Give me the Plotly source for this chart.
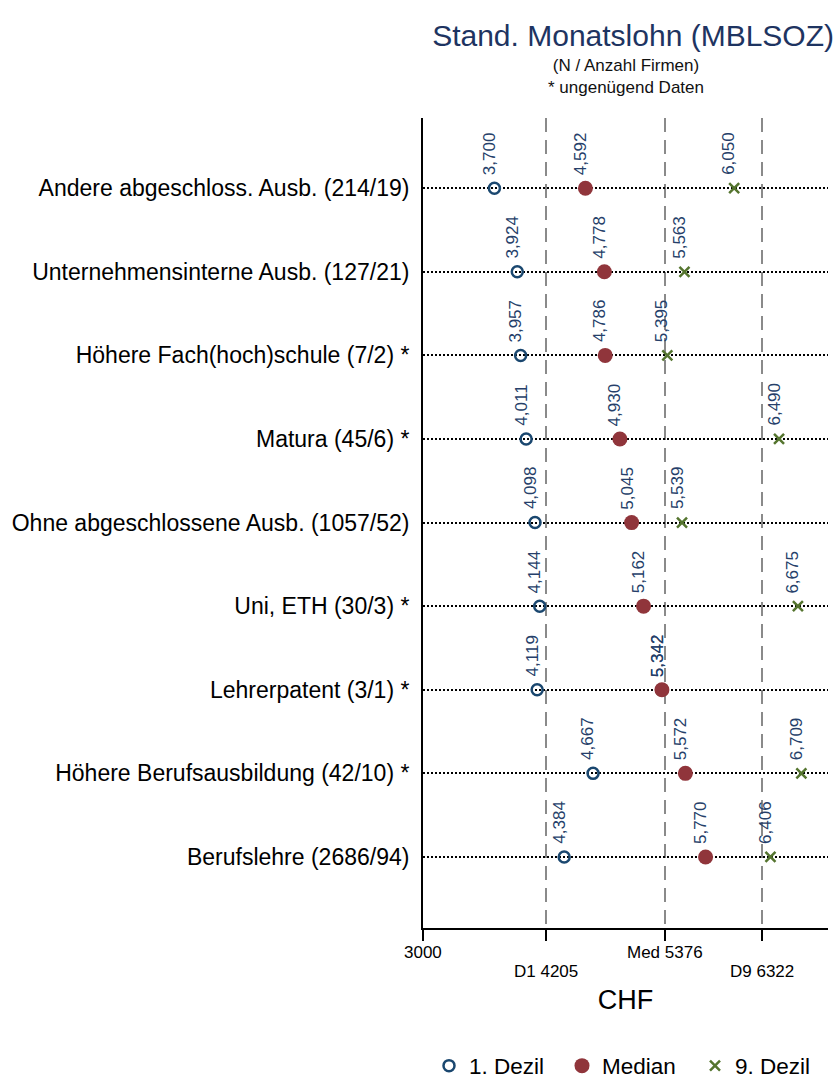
import plotly.graph_objects as go

# Rows, top to bottom
categories = [
    "Andere abgeschloss. Ausb. (214/19)",
    "Unternehmensinterne Ausb. (127/21)",
    "Höhere Fach(hoch)schule (7/2) *",
    "Matura (45/6) *",
    "Ohne abgeschlossene Ausb. (1057/52)",
    "Uni, ETH (30/3) *",
    "Lehrerpatent (3/1) *",
    "Höhere Berufsausbildung (42/10) *",
    "Berufslehre (2686/94)",
]
dezil1 = [3700, 3924, 3957, 4011, 4098, 4144, 4119, 4667, 4384]
median = [4592, 4778, 4786, 4930, 5045, 5162, 5342, 5572, 5770]
dezil9 = [6050, 5563, 5395, 6490, 5539, 6675, 5342, 6709, 6406]

# Overall reference values shown as dashed lines / axis ticks
ref_names = ["D1", "Med", "D9"]
ref_values = [4205, 5376, 6322]
x_min = 3000
x_max = 6970

FONT = "Liberation Sans, Arial, sans-serif"
NAVY = "#1a476f"
MAROON = "#90353b"
GREEN = "#55752f"
LABEL_COLOR = "#263f6a"

fig = go.Figure()

# D9 is drawn before the median so the median dot covers identical values
fig.add_trace(go.Scatter(
    x=dezil1, y=categories, mode="markers", name="1. Dezil",
    marker=dict(symbol="circle-open", size=11, color=NAVY, line=dict(width=2.5, color=NAVY)),
    legendrank=1,
))
fig.add_trace(go.Scatter(
    x=dezil9, y=categories, mode="markers", name="9. Dezil",
    marker=dict(symbol="x-thin", size=10, color=GREEN, line=dict(width=2.5, color=GREEN)),
    legendrank=3,
))
fig.add_trace(go.Scatter(
    x=median, y=categories, mode="markers", name="Median",
    marker=dict(symbol="circle", size=15, color=MAROON),
    legendrank=2,
))

# Rotated value labels above each marker
for series in (dezil1, median, dezil9):
    for cat, v in zip(categories, series):
        fig.add_annotation(
            x=v, y=cat, text=f"{v:,}", textangle=-90,
            showarrow=False, xanchor="center", yanchor="bottom",
            xshift=-5, yshift=11,
            font=dict(family=FONT, size=17, color=LABEL_COLOR),
        )

# x tick labels, alternating in two rows
tick_vals = [x_min] + ref_values
tick_text = [str(x_min)] + [f"{n} {v}" for n, v in zip(ref_names, ref_values)]
for i, (v, t) in enumerate(zip(tick_vals, tick_text)):
    fig.add_annotation(
        x=v, y=0, xref="x", yref="paper", text=t, showarrow=False,
        xanchor="center", yanchor="middle", yshift=-24 if i % 2 == 0 else -43,
        font=dict(family=FONT, size=17, color="black"),
    )

# Subtitle
fig.add_annotation(
    x=0.5, y=1 + 42 / 810, xref="paper", yref="paper",
    text="(N / Anzahl Firmen)<br>* ungenügend Daten", showarrow=False,
    xanchor="center", yanchor="middle",
    font=dict(family=FONT, size=17, color="#111111"),
)

fig.update_layout(
    width=837, height=1081,
    margin=dict(l=423, r=9, t=118, b=153, autoexpand=False),
    plot_bgcolor="white", paper_bgcolor="white",
    font=dict(family=FONT, color="black"),
    title=dict(
        text="Stand. Monatslohn (MBLSOZ)",
        x=834 / 837, xref="container", xanchor="right",
        y=1 - 35 / 1081, yref="container", yanchor="middle",
        font=dict(family=FONT, size=30, color="#1e3461"),
    ),
    xaxis=dict(
        range=[x_min, x_max],
        tickmode="array", tickvals=tick_vals, showticklabels=False,
        ticks="outside", ticklen=11, tickwidth=1.5, tickcolor="black",
        showline=True, linecolor="black", linewidth=1.5,
        showgrid=True, gridcolor="#8a8a8a", gridwidth=2, griddash="14px,8px",
        zeroline=False,
        title=dict(text="CHF", font=dict(family=FONT, size=27, color="black"), standoff=50),
    ),
    yaxis=dict(
        type="category",
        range=[8.85, -0.84],
        tickfont=dict(family=FONT, size=23, color="black"),
        ticks="", ticklabelstandoff=7,
        showline=True, linecolor="black", linewidth=2,
        showgrid=True, gridcolor="black", gridwidth=2, griddash="2px,2px",
        zeroline=False,
    ),
    legend=dict(
        orientation="h", x=(429 - 423) / 405, xanchor="left",
        y=-(1066 - 928) / 810, yanchor="middle",
        font=dict(family=FONT, size=22.5, color="black"),
        bgcolor="rgba(0,0,0,0)", entrywidth=88, entrywidthmode="pixels",
    ),
    showlegend=True,
)

# the page body has a default 8px margin; drop it so the figure sits at the window origin
fig.write_html(
    "out.html",
    config={"displayModeBar": False},
    post_script="document.body.style.margin='0';",
)
